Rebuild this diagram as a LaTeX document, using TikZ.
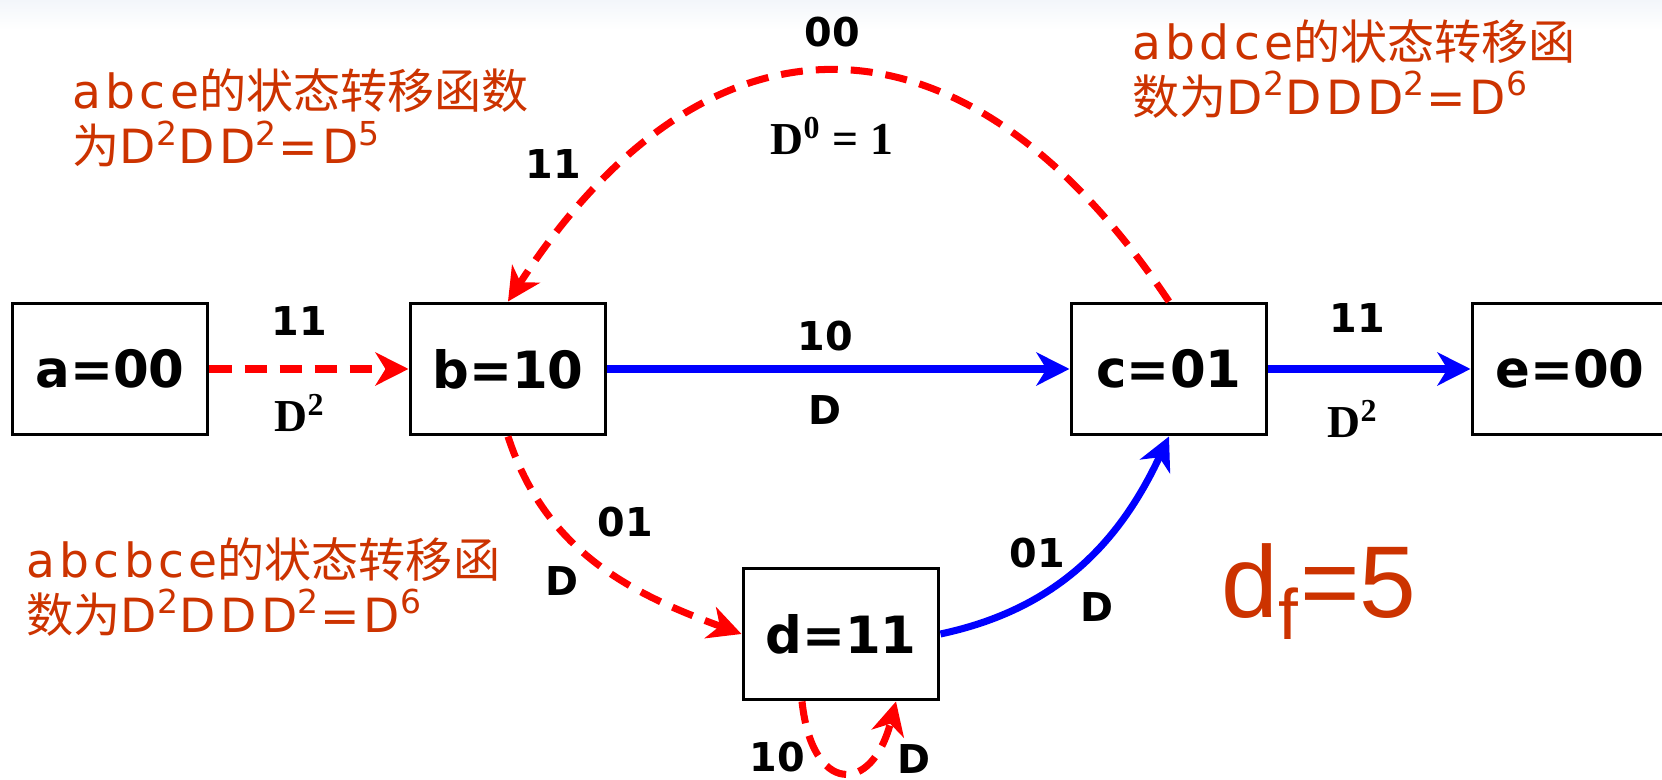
\documentclass[tikz,border=0pt]{standalone}
\usepackage{fontspec}
\usetikzlibrary{arrows.meta,calc}
\newfontfamily\cjk{Noto Sans CJK SC}
\newfontfamily\lat{DejaVu Sans}[LetterSpace=9]
\newfontfamily\lab{DejaVu Sans}
\newfontfamily\tms{Liberation Serif}
\newfontfamily\lsans{Liberation Sans}
\definecolor{notecol}{RGB}{204,51,0}
\definecolor{rd}{RGB}{255,0,0}
\definecolor{bl}{RGB}{0,0,255}
\begin{document}
\begin{tikzpicture}[x=0.01cm,y=-0.01cm,
  state/.style={draw=black, line width=1.1pt, fill=white, minimum width=1.95cm, minimum height=1.31cm, inner sep=0pt, font=\lab\bfseries\fontsize{14.6}{18}\selectfont},
  lbl/.style={font=\lab\bfseries\fontsize{11.3}{13}\selectfont, inner sep=0pt},
  tlbl/.style={font=\tms\bfseries\fontsize{13}{15}\selectfont, inner sep=0pt},
  notetext/.style={text=notecol, align=left, anchor=west, inner sep=0pt, font=\fontsize{13.4}{15.5}\selectfont},
  bigtip/.style={-{Stealth[length=0.33cm,width=0.33cm,inset=0.1cm]}},
  reddash/.style={draw=rd, line width=2pt, dash pattern=on 0.22cm off 0.13cm, bigtip},
  blueline/.style={draw=bl, line width=2pt, bigtip},
]
\useasboundingbox (0,0) rectangle (1662,780);
\shade[top color={rgb,255:red,243;green,246;blue,250}, bottom color=white] (0,0) rectangle (1662,30);

\node[state] (a) at (110,369) {a=00};
\node[state] (b) at (508,369) {b=10};
\node[state] (c) at (1169,369) {c=01};
\node[state] (e) at (1570,369) {e=00};
\node[state] (d) at (841,634) {d=11};

\draw[reddash] (a.east) -- (b.west);
\draw[blueline] (b.east) -- (c.west);
\draw[blueline] (c.east) -- (e.west);
\draw[reddash] (b.south) to[out=-72,in=160] (d.west);
\draw[blueline] (d.east) to[out=12,in=-115] (c.south);
\draw[reddash] (c.north) .. controls (964,-5) and (707,-5) .. (b.north);
\coordinate (dl) at ($(d.south)+(-39,0)$);
\coordinate (dr) at ($(d.south)+(55,0)$);
\draw[reddash] (dl) .. controls (812,795) and (872,795) .. (dr);

\node[lbl] (t1) at (299,321) {11};
\node[tlbl] (t2) at (300,413) {D\textsuperscript{2}};
\node[lbl] (t3) at (825,336) {10};
\node[lbl] (t4) at (825,410) {D};
\node[lbl] (t5) at (1357,318) {11};
\node[tlbl] (t6) at (1353,419) {D\textsuperscript{2}};
\node[lbl] (t7) at (832,32) {00};
\node[tlbl] (t8) at (832,136) {D\textsuperscript{0} = 1};
\node[lbl] (t9) at (553,164) {11};
\node[lbl] (t10) at (625,522) {01};
\node[lbl] (t11) at (562,581) {D};
\node[lbl] (t12) at (1037,553) {01};
\node[lbl] (t13) at (1097,607) {D};
\node[lbl] (t14) at (777,757) {10};
\node[lbl] (t15) at (914,759) {D};

\node[notetext] (n1) at (72,118) {{\lat abce}{\cjk 的状态转移函数}\\{\cjk 为}{\lat D\textsuperscript{2}DD\textsuperscript{2}=D\textsuperscript{5}}};
\node[notetext] (n2) at (1132,69) {{\lat abdce}{\cjk 的状态转移函}\\{\cjk 数为}{\lat D\textsuperscript{2}DDD\textsuperscript{2}=D\textsuperscript{6}}};
\node[notetext] (n3) at (26,587) {{\lat abcbce}{\cjk 的状态转移函}\\{\cjk 数为}{\lat D\textsuperscript{2}DDD\textsuperscript{2}=D\textsuperscript{6}}};
\node[text=notecol, anchor=base, inner sep=0pt, font=\lsans\fontsize{29}{31}\selectfont] (df) at (1319,618) {d\textsubscript{f}=5};
\end{tikzpicture}
\end{document}
